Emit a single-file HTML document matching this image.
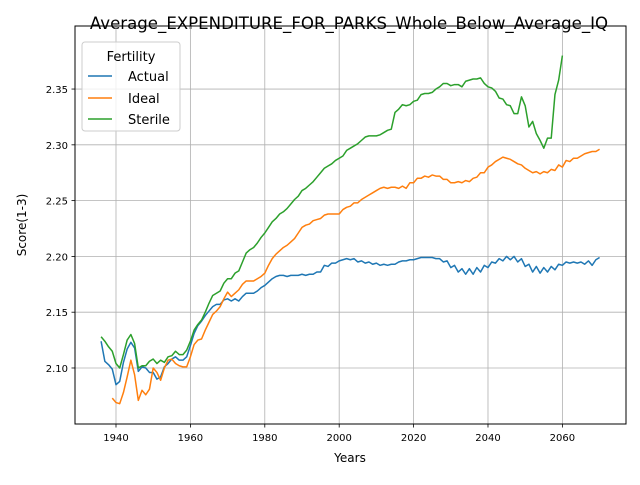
<!DOCTYPE html>
<html><head><meta charset="utf-8"><style>
body{margin:0;background:#fff;font-family:"Liberation Sans","DejaVu Sans",sans-serif;}
</style></head><body>
<svg id="chart" width="640" height="480" xmlns="http://www.w3.org/2000/svg" font-family="DejaVu Sans, Liberation Sans, sans-serif">
<rect width="640" height="480" fill="#fff"/>
<text x="349" y="29" text-anchor="middle" font-size="16.6">Average_EXPENDITURE_FOR_PARKS_Whole_Below_Average_IQ</text>
<g id="grid"></g>
<g id="series"></g>
<rect x="75" y="26" width="551" height="398" fill="none" stroke="#000" stroke-width="1"/>
<g id="ticks"></g>
<text x="350" y="462" text-anchor="middle" font-size="12">Years</text>
<text transform="translate(26,225) rotate(-90)" text-anchor="middle" font-size="12">Score(1-3)</text>
<g>
<rect x="82" y="42" width="98" height="89" rx="3" fill="#fff" fill-opacity="0.8" stroke="#ccc"/>
<text x="131" y="61" text-anchor="middle" font-size="13">Fertility</text>
<line x1="88" y1="76" x2="112" y2="76" stroke="#1f77b4" stroke-width="1.5"/>
<text x="128" y="81" font-size="13">Actual</text>
<line x1="88" y1="98" x2="112" y2="98" stroke="#ff7f0e" stroke-width="1.5"/>
<text x="128" y="103" font-size="13">Ideal</text>
<line x1="88" y1="119" x2="112" y2="119" stroke="#2ca02c" stroke-width="1.5"/>
<text x="128" y="124" font-size="13">Sterile</text>
</g>
</svg>
<script>
const actualStart = 1936;
const actualValues = [2.124,2.106,2.103,2.099,2.085,2.088,2.105,2.117,2.123,2.118,2.097,2.101,2.100,2.096,2.096,2.090,2.092,2.101,2.104,2.108,2.110,2.107,2.107,2.110,2.120,2.131,2.138,2.142,2.147,2.151,2.155,2.157,2.157,2.161,2.162,2.160,2.162,2.160,2.164,2.167,2.167,2.167,2.169,2.172,2.174,2.177,2.180,2.182,2.183,2.183,2.182,2.183,2.183,2.183,2.184,2.183,2.184,2.184,2.186,2.186,2.192,2.191,2.194,2.194,2.196,2.197,2.198,2.197,2.198,2.195,2.196,2.194,2.195,2.193,2.194,2.192,2.193,2.192,2.193,2.193,2.195,2.196,2.196,2.197,2.197,2.198,2.199,2.199,2.199,2.199,2.198,2.198,2.195,2.196,2.190,2.192,2.186,2.189,2.184,2.189,2.184,2.190,2.186,2.192,2.190,2.195,2.194,2.198,2.196,2.200,2.197,2.200,2.195,2.198,2.191,2.193,2.186,2.191,2.185,2.190,2.186,2.191,2.188,2.193,2.192,2.195,2.194,2.195,2.194,2.195,2.193,2.196,2.192,2.197,2.199];
const idealStart = 1939;
const idealValues = [2.073,2.069,2.068,2.078,2.092,2.107,2.094,2.071,2.080,2.076,2.081,2.100,2.096,2.089,2.100,2.107,2.108,2.104,2.102,2.101,2.101,2.110,2.121,2.125,2.126,2.134,2.141,2.148,2.151,2.155,2.162,2.168,2.164,2.167,2.170,2.175,2.178,2.178,2.178,2.180,2.182,2.185,2.192,2.198,2.202,2.205,2.208,2.210,2.213,2.216,2.221,2.226,2.228,2.229,2.232,2.233,2.234,2.237,2.238,2.238,2.238,2.238,2.242,2.244,2.245,2.248,2.248,2.251,2.253,2.255,2.257,2.259,2.261,2.262,2.261,2.262,2.262,2.261,2.263,2.261,2.266,2.266,2.270,2.270,2.272,2.271,2.273,2.272,2.272,2.269,2.269,2.266,2.266,2.267,2.266,2.268,2.267,2.270,2.271,2.275,2.275,2.280,2.282,2.285,2.287,2.289,2.288,2.287,2.285,2.283,2.282,2.279,2.277,2.275,2.276,2.274,2.276,2.275,2.278,2.277,2.282,2.280,2.286,2.285,2.288,2.288,2.290,2.292,2.293,2.294,2.294,2.296];
const sterileStart = 1936;
const sterileValues = [2.128,2.124,2.119,2.115,2.104,2.100,2.112,2.125,2.130,2.122,2.100,2.102,2.102,2.106,2.108,2.104,2.107,2.105,2.110,2.111,2.115,2.112,2.112,2.116,2.124,2.134,2.139,2.143,2.150,2.158,2.165,2.167,2.169,2.176,2.180,2.180,2.185,2.187,2.195,2.203,2.206,2.208,2.212,2.217,2.221,2.226,2.231,2.234,2.238,2.240,2.243,2.247,2.251,2.254,2.259,2.261,2.264,2.267,2.271,2.275,2.279,2.281,2.283,2.286,2.288,2.290,2.295,2.297,2.299,2.301,2.304,2.307,2.308,2.308,2.308,2.309,2.311,2.313,2.314,2.329,2.332,2.336,2.335,2.336,2.339,2.340,2.345,2.346,2.346,2.347,2.350,2.352,2.355,2.355,2.353,2.354,2.354,2.352,2.357,2.358,2.359,2.359,2.360,2.355,2.352,2.351,2.348,2.342,2.341,2.336,2.335,2.328,2.328,2.343,2.335,2.316,2.321,2.310,2.304,2.297,2.306,2.306,2.345,2.358,2.380];
const xTicks = [1940,1960,1980,2000,2020,2040,2060];
const yTicks = [2.10,2.15,2.20,2.25,2.30,2.35];

const NS = "http://www.w3.org/2000/svg";
const L=75,R=626,T=26,B=424;
const xMin=1928.98,xMax=2077.1,yMin=2.0498,yMax=2.4065;
function xs(v){return L+(v-xMin)/(xMax-xMin)*(R-L);}
function ys(v){return B-(v-yMin)/(yMax-yMin)*(B-T);}
const grid=document.getElementById('grid'),ticks=document.getElementById('ticks'),ser=document.getElementById('series');
function mk(tag,attrs,parent){const e=document.createElementNS(NS,tag);for(const k in attrs)e.setAttribute(k,attrs[k]);parent.appendChild(e);return e;}
xTicks.forEach(t=>{
  const x=xs(t);
  const g=mk('line',{x1:x,x2:x,y1:T,y2:B,stroke:'#b0b0b0','stroke-width':0.8},grid);
  
  
  mk('line',{x1:x,x2:x,y1:B,y2:B+3.5,stroke:'#000','stroke-width':0.8},ticks);
  const tx=mk('text',{x:x,y:B+17,'text-anchor':'middle','font-size':10},ticks);
  tx.textContent=t;
  
  
});
yTicks.forEach(t=>{
  const y=ys(t);
  const g=mk('line',{x1:L,x2:R,y1:y,y2:y,stroke:'#b0b0b0','stroke-width':0.8},grid);
  
  
  mk('line',{x1:L-3.5,x2:L,y1:y,y2:y,stroke:'#000','stroke-width':0.8},ticks);
  const tx=mk('text',{x:L-7,y:y+4,'text-anchor':'end','font-size':10},ticks);
  tx.textContent=t.toFixed(2);
  
  
});
function draw(start,vals,color,name){
  const pts=vals.map((v,i)=>xs(start+i).toFixed(2)+','+ys(v).toFixed(2)).join(' ');
  const p=mk('polyline',{points:pts,fill:'none',stroke:color,'stroke-width':1.5,'stroke-linejoin':'round'},ser);
  
  
}
draw(actualStart,actualValues,'#1f77b4','actual-line');
draw(idealStart,idealValues,'#ff7f0e','ideal-line');
draw(sterileStart,sterileValues,'#2ca02c','sterile-line');
</script>
</body></html>
